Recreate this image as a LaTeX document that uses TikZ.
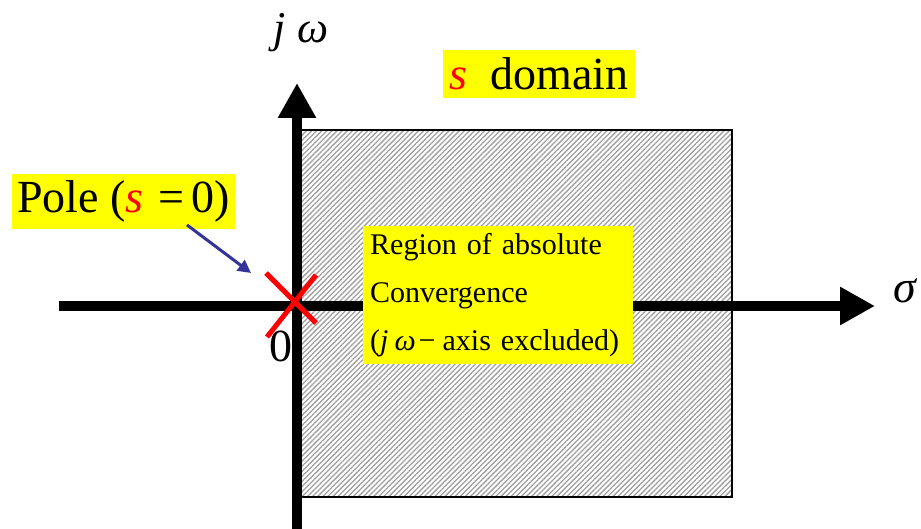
\documentclass[tikz,border=0pt]{standalone}
\usepackage{fontspec}
\setmainfont{Liberation Serif}
\usetikzlibrary{arrows.meta,patterns.meta}
\definecolor{ybg}{RGB}{255,255,0}
\definecolor{arrblue}{RGB}{51,51,153}
\begin{document}
\begin{tikzpicture}[x=1pt,y=-1pt,
  ybox/.style={fill=ybg,inner sep=0pt},
  axis/.style={line width=10pt,-{Triangle[length=35pt,width=36pt]}},
  polemark/.style={red,line width=5pt},
  pointer/.style={arrblue,line width=3pt,-{Triangle[length=13pt,width=13pt]}}]
\useasboundingbox (0,0) rectangle (921,529);
% region
\fill[pattern={Lines[angle=45,distance=3.6pt,line width=1.3pt]},pattern color=gray!75] (300,130) rectangle (732,497);
\draw[line width=2.2pt] (300,130) rectangle (732,497);
% axes
\coordinate (hs) at (59,306);
\coordinate (he) at (875,306);
\coordinate (vs) at (297,529);
\coordinate (ve) at (297,83);
\draw[axis] (hs) -- (he);
\draw[axis] (vs) -- (ve);
% labels
\node[anchor=base west,inner sep=0pt,font=\fontsize{44}{48}\selectfont] (jw) at (273,43) {\textit{j}\hspace{12pt}\textit{ω}};
\node[anchor=base west,inner sep=0pt,font=\fontsize{46}{52}\selectfont] (sig) at (893,303) {\textit{σ}};
\node[anchor=base east,inner sep=0pt,font=\fontsize{46}{52}\selectfont] (zero) at (293,361) {0};
\node[ybox,minimum width=192pt,text height=31pt,text depth=0pt,inner ysep=8.5pt,font=\fontsize{46}{52}\selectfont] (dom) at (539,74.5) {\textcolor{red}{\textit{s}}\hspace{0.5em}domain};
\node[ybox,anchor=base west,inner xsep=5pt,text height=32pt,text depth=9pt,inner ysep=7pt,font=\fontsize{46}{52}\selectfont] (pole) at (12,213) {Pole (\textcolor{red}{\textit{s}}\hspace{15pt}=\hspace{7pt}0)};
\node[ybox,anchor=north west,align=left,text width=256pt,inner xsep=7pt,inner ysep=7pt,font=\fontsize{30}{48}\selectfont] (roc) at (363,226) {Region of absolute\\Convergence\\(\textit{j}\hspace{6pt}\textit{ω}\hspace{3pt}−\hspace{7pt}axis excluded)};
% pole pointer
\coordinate (pa) at (187,225);
\coordinate (pb) at (251,273);
\draw[pointer] (pa) -- (pb);
% pole mark
\coordinate (x1) at (266,273);
\coordinate (x2) at (316,323);
\coordinate (x3) at (267,337);
\coordinate (x4) at (316,275);
\draw[polemark] (x1) -- (x2);
\draw[polemark] (x3) -- (x4);
\end{tikzpicture}
\end{document}
